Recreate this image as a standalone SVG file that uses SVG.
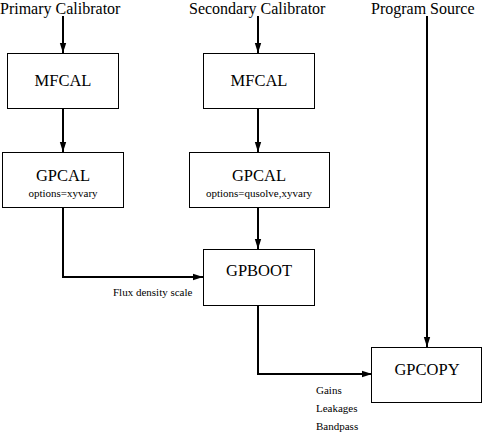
<svg xmlns="http://www.w3.org/2000/svg" width="483" height="432" viewBox="0 0 483 432">
<defs>
<style>
.box{fill:#fff;stroke:#000;stroke-width:1}
.t{font-family:"Liberation Serif","Times New Roman",serif;fill:#000}
.title{font-size:16px}
.name{font-size:16.5px;text-anchor:middle}
.opt{font-size:11px;text-anchor:middle}
.lbl{font-size:11px}
.c{fill:none;stroke:#000;stroke-width:2}
</style>
<marker id="ah" markerWidth="10" markerHeight="8" refX="10" refY="4" orient="auto" markerUnits="userSpaceOnUse">
<path d="M0,0.8 L10,4 L0,7.2 Z" fill="#000"/>
</marker>
</defs>
<rect width="483" height="432" fill="#fff"/>
<g id="connectors">
<path class="c" d="M63,16 V53" marker-end="url(#ah)"/>
<path class="c" d="M258,16 V53" marker-end="url(#ah)"/>
<path class="c" d="M427,16 V347" marker-end="url(#ah)"/>
<path class="c" d="M63,109 V152" marker-end="url(#ah)"/>
<path class="c" d="M258,109 V152" marker-end="url(#ah)"/>
<path class="c" d="M63,208 V277 H203" marker-end="url(#ah)"/>
<path class="c" d="M258,208 V249" marker-end="url(#ah)"/>
<path class="c" d="M258,306 V374 H372" marker-end="url(#ah)"/>
</g>
<g id="primary-label"><text class="t title" x="0" y="14">Primary Calibrator</text></g>
<g id="secondary-label"><text class="t title" x="189" y="14">Secondary Calibrator</text></g>
<g id="source-label"><text class="t title" x="371" y="14">Program Source</text></g>
<g id="mfcal1"><rect class="box" x="7.5" y="53.5" width="111" height="55"/><text class="t name" x="63" y="86">MFCAL</text></g>
<g id="mfcal2"><rect class="box" x="203.5" y="53.5" width="111" height="55"/><text class="t name" x="259" y="86">MFCAL</text></g>
<g id="gpcal1"><rect class="box" x="2.5" y="152.5" width="121" height="55"/><text class="t name" x="63" y="181">GPCAL</text><text class="t opt" x="63" y="197">options=xyvary</text></g>
<g id="gpcal2"><rect class="box" x="189.5" y="152.5" width="140" height="55"/><text class="t name" x="259" y="181">GPCAL</text><text class="t opt" x="259" y="197">options=qusolve,xyvary</text></g>
<g id="gpboot"><rect class="box" x="203.5" y="249.5" width="111" height="56"/><text class="t name" x="259" y="276">GPBOOT</text></g>
<g id="gpcopy"><rect class="box" x="371.5" y="347.5" width="110" height="55"/><text class="t name" x="427" y="375">GPCOPY</text></g>
<g id="labels">
<text class="t lbl" x="113" y="296">Flux density scale</text>
<text class="t lbl" x="316" y="394">Gains</text>
<text class="t lbl" x="316" y="412">Leakages</text>
<text class="t lbl" x="316" y="430">Bandpass</text>
</g>
</svg>
